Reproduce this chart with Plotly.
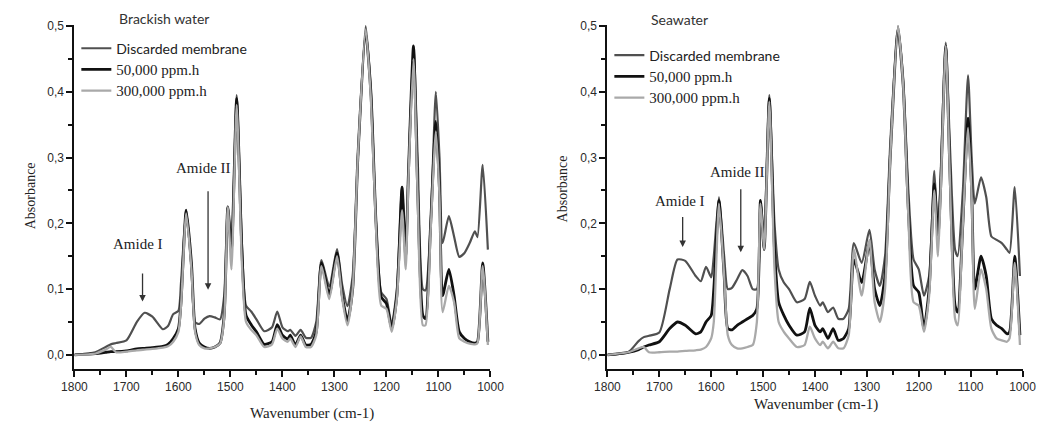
import plotly.graph_objects as go

# ---- data ----
wavenumber = [1800, 1760, 1740, 1730, 1720, 1700, 1680, 1665, 1650, 1630, 1620, 1610, 1600, 1595,
              1585, 1575, 1568, 1560, 1550, 1540, 1530, 1520, 1512, 1505, 1498, 1488, 1478, 1470,
              1460, 1450, 1435, 1420, 1410, 1400, 1390, 1385, 1375, 1365, 1355, 1345, 1335, 1325,
              1310, 1295, 1285, 1275, 1265, 1255, 1240, 1230, 1220, 1210, 1200, 1190, 1180, 1170,
              1163, 1158, 1148, 1140, 1130, 1125, 1115, 1105, 1098, 1092, 1080, 1070, 1060, 1050,
              1040, 1030, 1025, 1015, 1005]

brackish_discarded = [0.0, 0.004, 0.012, 0.016, 0.018, 0.022, 0.05, 0.064, 0.058, 0.039, 0.044, 0.062, 0.067, 0.11,
                      0.22, 0.13, 0.05, 0.047, 0.055, 0.059, 0.057, 0.054, 0.09, 0.225, 0.16, 0.395, 0.17, 0.075,
                      0.066, 0.054, 0.036, 0.042, 0.066, 0.042, 0.036, 0.038, 0.029, 0.038, 0.026, 0.026, 0.05, 0.144,
                      0.104, 0.161, 0.106, 0.074, 0.12, 0.3, 0.5, 0.4, 0.2, 0.095, 0.085, 0.046, 0.1, 0.255,
                      0.15, 0.27, 0.47, 0.3, 0.1, 0.098, 0.2, 0.4, 0.3, 0.17, 0.211, 0.18, 0.149, 0.155,
                      0.17, 0.188, 0.179, 0.289, 0.16]
brackish_50k = [0.0, 0.002, 0.004, 0.005, 0.005, 0.006, 0.009, 0.01, 0.011, 0.013, 0.016, 0.025, 0.04, 0.08,
                0.22, 0.14, 0.04, 0.018, 0.012, 0.01, 0.012, 0.018, 0.06, 0.225, 0.16, 0.39, 0.16, 0.06,
                0.046, 0.035, 0.016, 0.02, 0.046, 0.03, 0.024, 0.03, 0.015, 0.03, 0.015, 0.016, 0.035, 0.14,
                0.092, 0.155, 0.09, 0.052, 0.1, 0.3, 0.49, 0.4, 0.2, 0.088, 0.078, 0.04, 0.09, 0.255,
                0.15, 0.27, 0.47, 0.25, 0.06, 0.055, 0.2, 0.355, 0.25, 0.09, 0.13, 0.09, 0.035, 0.025,
                0.02, 0.018, 0.02, 0.14, 0.02]
brackish_300k = [0.0, 0.002, 0.008, 0.012, 0.004, 0.005, 0.007, 0.008, 0.009, 0.011, 0.013, 0.02, 0.035, 0.075,
                 0.215, 0.13, 0.035, 0.015, 0.01, 0.01, 0.012, 0.017, 0.055, 0.225, 0.13, 0.38, 0.14, 0.05,
                 0.038, 0.03, 0.012, 0.016, 0.04, 0.025, 0.02, 0.025, 0.012, 0.028, 0.012, 0.012, 0.03, 0.135,
                 0.085, 0.15, 0.085, 0.045, 0.1, 0.3, 0.495, 0.39, 0.19, 0.075, 0.07, 0.035, 0.085, 0.22,
                 0.13, 0.26, 0.45, 0.24, 0.045, 0.045, 0.19, 0.34, 0.24, 0.065, 0.105, 0.08, 0.025, 0.02,
                 0.017, 0.016, 0.018, 0.135, 0.015]

sea_discarded = [0.0, 0.004, 0.021, 0.027, 0.029, 0.034, 0.1, 0.145, 0.143, 0.12, 0.112, 0.134, 0.118, 0.15,
                 0.24, 0.15, 0.1, 0.102, 0.115, 0.129, 0.12, 0.1, 0.1, 0.235, 0.18, 0.395, 0.2, 0.13,
                 0.11, 0.1, 0.08, 0.085, 0.111, 0.09, 0.075, 0.08, 0.065, 0.072, 0.055, 0.055, 0.07, 0.17,
                 0.14, 0.19, 0.13, 0.105, 0.15, 0.32, 0.5, 0.42, 0.25, 0.145, 0.13, 0.09, 0.12, 0.28,
                 0.18, 0.27, 0.475, 0.32, 0.16, 0.15, 0.25, 0.425, 0.3, 0.23, 0.27, 0.24, 0.18, 0.175,
                 0.17, 0.16, 0.155, 0.255, 0.12]
sea_50k = [0.0, 0.004, 0.008, 0.012, 0.015, 0.02, 0.04, 0.05, 0.045, 0.032, 0.035, 0.05, 0.06, 0.1,
           0.235, 0.12, 0.04, 0.038, 0.045, 0.05, 0.055, 0.06, 0.07, 0.235, 0.16, 0.39, 0.16, 0.08,
           0.06, 0.045, 0.03, 0.035, 0.071, 0.045, 0.035, 0.04, 0.025, 0.04, 0.022, 0.025, 0.04, 0.145,
           0.11, 0.17, 0.1, 0.075, 0.12, 0.3, 0.495, 0.41, 0.22, 0.105, 0.095, 0.04, 0.1, 0.26,
           0.18, 0.25, 0.47, 0.28, 0.075, 0.065, 0.2, 0.36, 0.25, 0.1, 0.15, 0.12, 0.055, 0.045,
           0.04, 0.032, 0.035, 0.15, 0.03]
sea_300k = [0.0, 0.004, 0.01, 0.012, 0.004, 0.004, 0.005, 0.005, 0.006, 0.007, 0.008, 0.012, 0.025, 0.05,
            0.23, 0.12, 0.03, 0.015, 0.01, 0.01, 0.012, 0.015, 0.05, 0.23, 0.16, 0.385, 0.13, 0.05,
            0.035, 0.025, 0.012, 0.015, 0.043, 0.025, 0.015, 0.02, 0.01, 0.02, 0.01, 0.01, 0.03, 0.16,
            0.09, 0.175, 0.08, 0.05, 0.1, 0.3, 0.5, 0.41, 0.21, 0.08, 0.075, 0.035, 0.09, 0.25,
            0.15, 0.24, 0.47, 0.27, 0.055, 0.045, 0.2, 0.345, 0.24, 0.07, 0.13, 0.1, 0.04, 0.025,
            0.022, 0.02, 0.025, 0.14, 0.015]

series_names = ["Discarded membrane", "50,000 ppm.h", "300,000 ppm.h"]
panel_titles = ["Brackish water", "Seawater"]
x_ticks = [1800, 1700, 1600, 1500, 1400, 1300, 1200, 1100, 1000]
y_ticks = [0.0, 0.1, 0.2, 0.3, 0.4, 0.5]

# ---- styles ----
colors = ["#505050", "#111111", "#a9a9a9"]
widths = [2.2, 2.8, 2.3]
name_styles = ["font-family:Lato;font-size:14px", "font-size:15px", "font-size:15px"]
SERIF = "Liberation Serif"

fig = go.Figure()
panels = [(brackish_discarded, brackish_50k, brackish_300k), (sea_discarded, sea_50k, sea_300k)]
for p, data in enumerate(panels):
    xa = "x" if p == 0 else "x2"
    ya = "y" if p == 0 else "y2"
    lg = "legend" if p == 0 else "legend2"
    for i in [0, 1, 2]:
        fig.add_trace(go.Scatter(
            x=wavenumber, y=data[i], mode="lines",
            line=dict(color=colors[i], width=widths[i], shape="spline", smoothing=0.6),
            name=f"<span style='{name_styles[i]}'>{series_names[i]}</span>",
            xaxis=xa, yaxis=ya, legend=lg, showlegend=True,
        ))

axis_common = dict(
    showline=True, linecolor="#111", linewidth=2, ticks="outside", ticklen=6, tickwidth=1.5,
    tickcolor="#111", showgrid=False, zeroline=False,
    tickfont=dict(family="Liberation Sans", size=12, color="#2a2a2a"),
)
ydom = [1 - 368 / 427, 1 - 20 / 427]
fig.update_layout(
    width=1057, height=427, margin=dict(l=0, r=0, t=0, b=0),
    paper_bgcolor="white", plot_bgcolor="white", separators=",.",
    xaxis=dict(domain=[63 / 1057, 490 / 1057], range=[1800, 1000], tickvals=x_ticks, tickformat="d",
               minor=dict(dtick=50, ticks="outside", ticklen=4, tickcolor="#111"), anchor="y", **axis_common),
    yaxis=dict(domain=ydom, range=[-0.021, 0.502], tickvals=y_ticks, tickformat=".1f",
               minor=dict(dtick=0.05, ticks="outside", ticklen=4, tickcolor="#111"), anchor="x", **axis_common),
    xaxis2=dict(domain=[610 / 1057, 1036 / 1057], range=[1800, 1000], tickvals=x_ticks, tickformat="d",
                minor=dict(dtick=50, ticks="outside", ticklen=4, tickcolor="#111"), anchor="y2", **axis_common),
    yaxis2=dict(domain=ydom, range=[-0.021, 0.502], tickvals=y_ticks, tickformat=".1f",
                minor=dict(dtick=0.05, ticks="outside", ticklen=4, tickcolor="#111"), anchor="x2", **axis_common),
    legend=dict(x=65 / 1057, y=1 - 28 / 427, xanchor="left", yanchor="top", bgcolor="rgba(0,0,0,0)",
                font=dict(family=SERIF, size=14, color="#222"), tracegroupgap=0, itemwidth=30,
                traceorder="normal"),
    legend2=dict(x=612 / 1057, y=1 - 35 / 427, xanchor="left", yanchor="top", bgcolor="rgba(0,0,0,0)",
                 font=dict(family=SERIF, size=14, color="#222"), tracegroupgap=0, itemwidth=30,
                 traceorder="normal"),
    showlegend=True,
)

ann = []
# panel titles
ann.append(dict(text=panel_titles[0], x=155 / 1057, y=1 - 14 / 427, xref="paper", yref="paper",
                xanchor="center", yanchor="middle",
                showarrow=False, font=dict(family="Lato", size=14, color="#333")))
ann.append(dict(text=panel_titles[1], x=684 / 1057, y=1 - 15 / 427, xref="paper", yref="paper",
                xanchor="center", yanchor="middle",
                showarrow=False, font=dict(family="Lato", size=14, color="#333")))
# axis titles
for cx, cy in [(18, 193), (564, 186)]:
    ann.append(dict(text="Absorbance", x=cx / 1057, y=1 - cy / 427, xref="paper", yref="paper",
                    xanchor="center", yanchor="middle",
                    showarrow=False, textangle=-90, font=dict(family=SERIF, size=14, color="#222")))
for cx, cy in [(307, 413), (824, 404)]:
    ann.append(dict(text="Wavenumber (cm-1)", x=cx / 1057, y=1 - cy / 427, xref="paper", yref="paper",
                    xanchor="center", yanchor="middle",
                    showarrow=False, font=dict(family=SERIF, size=15, color="#222")))

# amide labels + arrows (data coordinates)
amide = [
    ("x", "y", "Amide I", 1678, 0.168, 1669, 0.126, 0.081),
    ("x", "y", "Amide II", 1551, 0.284, 1543, 0.251, 0.099),
    ("x2", "y2", "Amide I", 1661, 0.234, 1655, 0.212, 0.164),
    ("x2", "y2", "Amide II", 1550, 0.278, 1543, 0.254, 0.156),
]
for xr, yr, label, tx, ty, axx, tail, tip in amide:
    ann.append(dict(text=label, x=tx, y=ty, xref=xr, yref=yr, showarrow=False,
                    xanchor="center", yanchor="middle",
                    font=dict(family=SERIF, size=15, color="#222")))
    ann.append(dict(text="", x=axx, y=tip, xref=xr, yref=yr, ax=axx, ay=tail, axref=xr, ayref=yr,
                    showarrow=True, arrowhead=2, arrowsize=1, arrowwidth=1.3, arrowcolor="#333"))

fig.update_layout(annotations=ann)
fig.write_html("out.html")
